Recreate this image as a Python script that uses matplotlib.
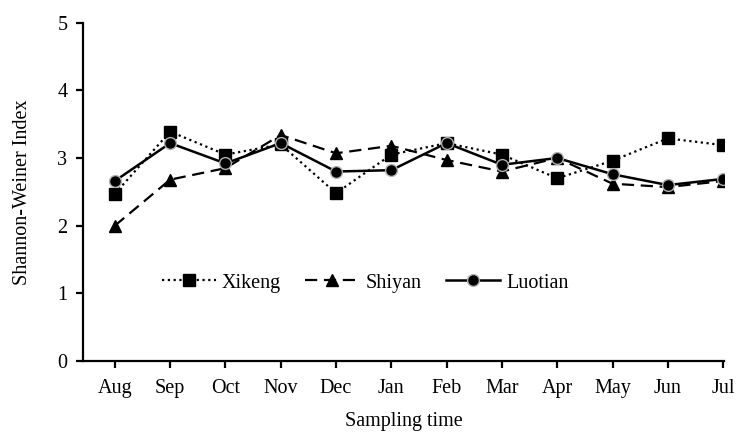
import numpy as np
import matplotlib
matplotlib.use("Agg")
import matplotlib.pyplot as plt

plt.rcParams['font.family'] = ['Liberation Serif', 'DejaVu Serif']

months = ['Aug', 'Sep', 'Oct', 'Nov', 'Dec', 'Jan', 'Feb', 'Mar', 'Apr', 'May', 'Jun', 'Jul']
xikeng = [2.47, 3.39, 3.05, 3.20, 2.48, 3.05, 3.22, 3.05, 2.70, 2.96, 3.29, 3.19]
shiyan = [2.00, 2.68, 2.85, 3.34, 3.07, 3.18, 2.97, 2.80, 3.00, 2.62, 2.57, 2.66]
luotian = [2.66, 3.22, 2.92, 3.22, 2.80, 2.82, 3.22, 2.90, 3.00, 2.76, 2.60, 2.69]

fig = plt.figure(figsize=(7.39, 4.32), dpi=100)
ax = fig.add_axes([0.112, 0.1644, 0.868, 0.7831])

x = np.arange(len(months))
ax.plot(x, xikeng, color='black', linestyle=(0, (1, 1.6)), linewidth=1.6,
        marker='s', markersize=8.5, markerfacecolor='black', markeredgecolor='black',
        label='Xikeng')
ax.plot(x, shiyan, color='black', linestyle=(0, (5.5, 3)), linewidth=1.6,
        marker='^', markersize=9, markerfacecolor='black', markeredgecolor='black',
        label='Shiyan')
ax.plot(x, luotian, color='black', linestyle='-', linewidth=1.8,
        marker='o', markersize=8.5, markerfacecolor='black', markeredgecolor='#b0b0b0',
        markeredgewidth=1.0, label='Luotian')

ax.set_xlim(-0.58, 11.02)
ax.set_ylim(0, 5)
ax.set_xticks(x)
ax.set_xticklabels(months)
ax.set_yticks(range(0, 6))

for s in ['top', 'right']:
    ax.spines[s].set_visible(False)
for s in ['left', 'bottom']:
    ax.spines[s].set_linewidth(1.6)

ax.tick_params(axis='both', labelsize=14.5, width=1.6, length=5, direction='out')
ax.tick_params(axis='x', pad=8)
ax.tick_params(axis='y', pad=6)
ax.set_xlabel('Sampling time', fontsize=14.5, labelpad=10)
ax.set_ylabel('Shannon-Weiner Index', fontsize=14.5, labelpad=18)

fig.legend(loc='center', bbox_to_anchor=(0.494, 0.345), ncol=3, frameon=False,
           fontsize=14.5, handlelength=2.7, handletextpad=0.3, columnspacing=1.2)

fig.savefig('out.png', dpi=100)
